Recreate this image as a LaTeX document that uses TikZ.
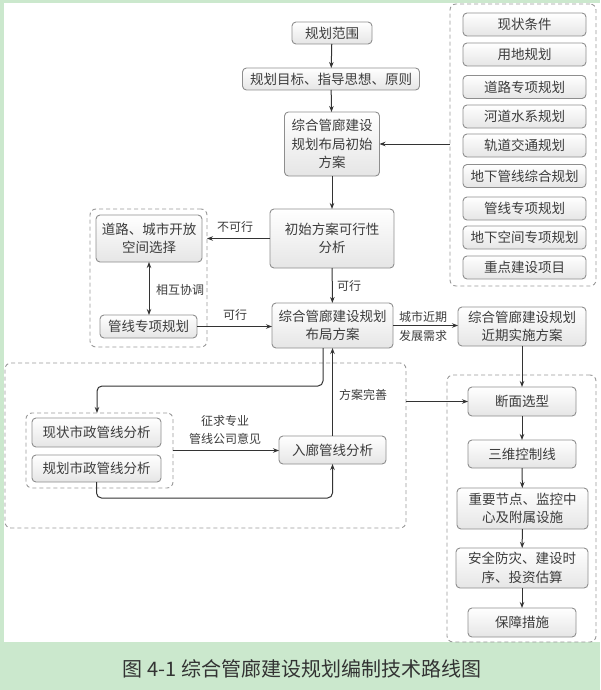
\documentclass[tikz,border=0pt]{standalone}
\usepackage{fontspec}
\newfontfamily\cjk{Noto Sans CJK SC}
\usetikzlibrary{arrows.meta}
\definecolor{bggreen}{HTML}{CBE8CD}
\definecolor{txt}{HTML}{3C3C3C}
\definecolor{boxline}{HTML}{8E8E8E}
\definecolor{lineclr}{HTML}{333333}
\definecolor{dashclr}{HTML}{9A9A9A}
\tikzset{
 box/.style={draw=boxline, line width=0.9pt, rounded corners=4pt, top color=white, bottom color=black!10, text=txt, align=center, inner sep=1pt, outer sep=0pt, font=\cjk\fontsize{13.5}{18.5}\selectfont},
 grp/.style={draw=dashclr, line width=0.9pt, dash pattern=on 4pt off 3pt, rounded corners=6pt, inner sep=0pt, outer sep=0pt},
 conn/.style={draw=lineclr, line width=1pt, -{Stealth[length=6pt,width=4.5pt]}},
 dbl/.style={draw=lineclr, line width=1pt, {Stealth[length=6pt,width=4.5pt]}-{Stealth[length=6pt,width=4.5pt]}},
 lbl/.style={text=txt, font=\cjk\fontsize{12}{16}\selectfont, inner sep=0pt, align=center},
}
\begin{document}
\begin{tikzpicture}[x=1pt,y=-1pt]
\useasboundingbox (0,0) rectangle (600,690);
\fill[bggreen] (0,0) rectangle (600,690);
\fill[white] (4,3) rectangle (600,642);

% dashed groups
\node[grp, minimum width=146pt, minimum height=282pt] (rgrp) at (523,145) {};
\node[grp, minimum width=117pt, minimum height=138pt] (lgrp) at (148.5,278) {};
\node[grp, minimum width=401pt, minimum height=165pt] (big) at (205.5,445.5) {};
\node[grp, minimum width=147pt, minimum height=75pt] (igrp) at (99.5,450.5) {};
\node[grp, minimum width=149pt, minimum height=267pt] (bgrp) at (521.5,508.5) {};

% main column
\node[box, minimum width=80pt, minimum height=22pt] (fw) at (332,33) {规划范围};
\node[box, minimum width=177pt, minimum height=22pt] (mb) at (331,79) {规划目标、指导思想、原则};
\node[box, minimum width=95pt, minimum height=64pt] (init) at (332,144) {综合管廊建设\\规划布局初始\\方案};
\node[box, minimum width=124pt, minimum height=59pt] (feas) at (332,238.5) {初始方案可行性\\分析};
\node[box, minimum width=121pt, minimum height=45pt] (lay) at (332.5,325.5) {综合管廊建设规划\\布局方案};
\node[box, minimum width=128pt, minimum height=39pt] (near) at (522,326.5) {综合管廊建设规划\\近期实施方案};

% left group
\node[box, minimum width=106pt, minimum height=47pt] (road) at (149,238.5) {道路、城市开放\\空间选择};
\node[box, minimum width=97pt, minimum height=23pt] (gxl) at (148.5,326.5) {管线专项规划};

% right column
\node[box, minimum width=123pt, minimum height=23pt] (r1) at (524.5,24.5) {现状条件};
\node[box, minimum width=123pt, minimum height=23pt] (r2) at (524.5,54.5) {用地规划};
\node[box, minimum width=123pt, minimum height=23pt] (r3) at (524.5,87) {道路专项规划};
\node[box, minimum width=123pt, minimum height=23pt] (r4) at (524.5,116.5) {河道水系规划};
\node[box, minimum width=123pt, minimum height=23pt] (r5) at (524.5,145.5) {轨道交通规划};
\node[box, minimum width=123pt, minimum height=23pt] (r6) at (524.5,176) {地下管线综合规划};
\node[box, minimum width=123pt, minimum height=23pt] (r7) at (524.5,208.5) {管线专项规划};
\node[box, minimum width=123pt, minimum height=23pt] (r8) at (524.5,237.5) {地下空间专项规划};
\node[box, minimum width=123pt, minimum height=23pt] (r9) at (524.5,267.5) {重点建设项目};

% bottom left
\node[box, minimum width=129pt, minimum height=29pt] (xz) at (96.5,432.5) {现状市政管线分析};
\node[box, minimum width=129pt, minimum height=27pt] (gh) at (96.5,468.5) {规划市政管线分析};
\node[box, minimum width=107pt, minimum height=28pt] (rl) at (332.5,450) {入廊管线分析};

% bottom right
\node[box, minimum width=108pt, minimum height=29pt] (dm) at (522,401.5) {断面选型};
\node[box, minimum width=108pt, minimum height=28pt] (sw) at (522,454) {三维控制线};
\node[box, minimum width=131pt, minimum height=41pt] (zy) at (522.5,508.5) {重要节点、监控中\\心及附属设施};
\node[box, minimum width=132pt, minimum height=40pt] (aq) at (522,568) {安全防灾、建设时\\序、投资估算};
\node[box, minimum width=108pt, minimum height=29pt] (bz) at (522,622.5) {保障措施};

% labels
\node[lbl] (l1) at (235,227) {不可行};
\node[lbl] (l2) at (180,290) {相互协调};
\node[lbl] (l3) at (235,315) {可行};
\node[lbl] (l4) at (349,286) {可行};
\node[lbl] (l5) at (423,317) {城市近期};
\node[lbl] (l6) at (423,336) {发展需求};
\node[lbl] (l7) at (363,395) {方案完善};
\node[lbl] (l8) at (225,421) {征求专业};
\node[lbl] (l9) at (225,439) {管线公司意见};

% connectors
\draw[conn] (fw) -- (mb);
\draw[conn] (mb) -- (init);
\draw[conn] (rgrp.west |- init.east) -- (init.east);
\draw[conn] (init) -- (feas);
\draw[conn] (feas.west) -- (feas.west -| lgrp.east);
\draw[dbl] (road.south) -- (road.south |- gxl.north);
\draw[conn] (gxl.east) -- (gxl.east -| lay.west);
\draw[conn] (feas) -- (lay);
\draw[conn] (lay.east) -- (lay.east -| near.west);
\draw[conn] (near.south) -- (near.south |- dm.north);
\draw[conn] (big.east |- dm.west) -- (dm.west);
\draw[conn] (dm) -- (sw);
\draw[conn] (sw) -- (zy);
\draw[conn] (zy) -- (aq);
\draw[conn] (aq) -- (bz);
\draw[conn, rounded corners=5pt] ([xshift=-9.5pt]lay.south) -- ++(0,38) -| ([xshift=-2.5pt]igrp.north);
\draw[conn] (rl.north) -- (rl.north |- lay.south);
\draw[conn] (igrp.east) -- (igrp.east -| rl.west);
\draw[conn, rounded corners=5pt] (gh.south) -- ++(0,16) -| (rl.south);

% caption
\node[font=\cjk\fontsize{20}{24}\selectfont, text=black!80, inner sep=0pt] (cap) at (302,669) {图 4-1 综合管廊建设规划编制技术路线图};
\end{tikzpicture}
\end{document}
